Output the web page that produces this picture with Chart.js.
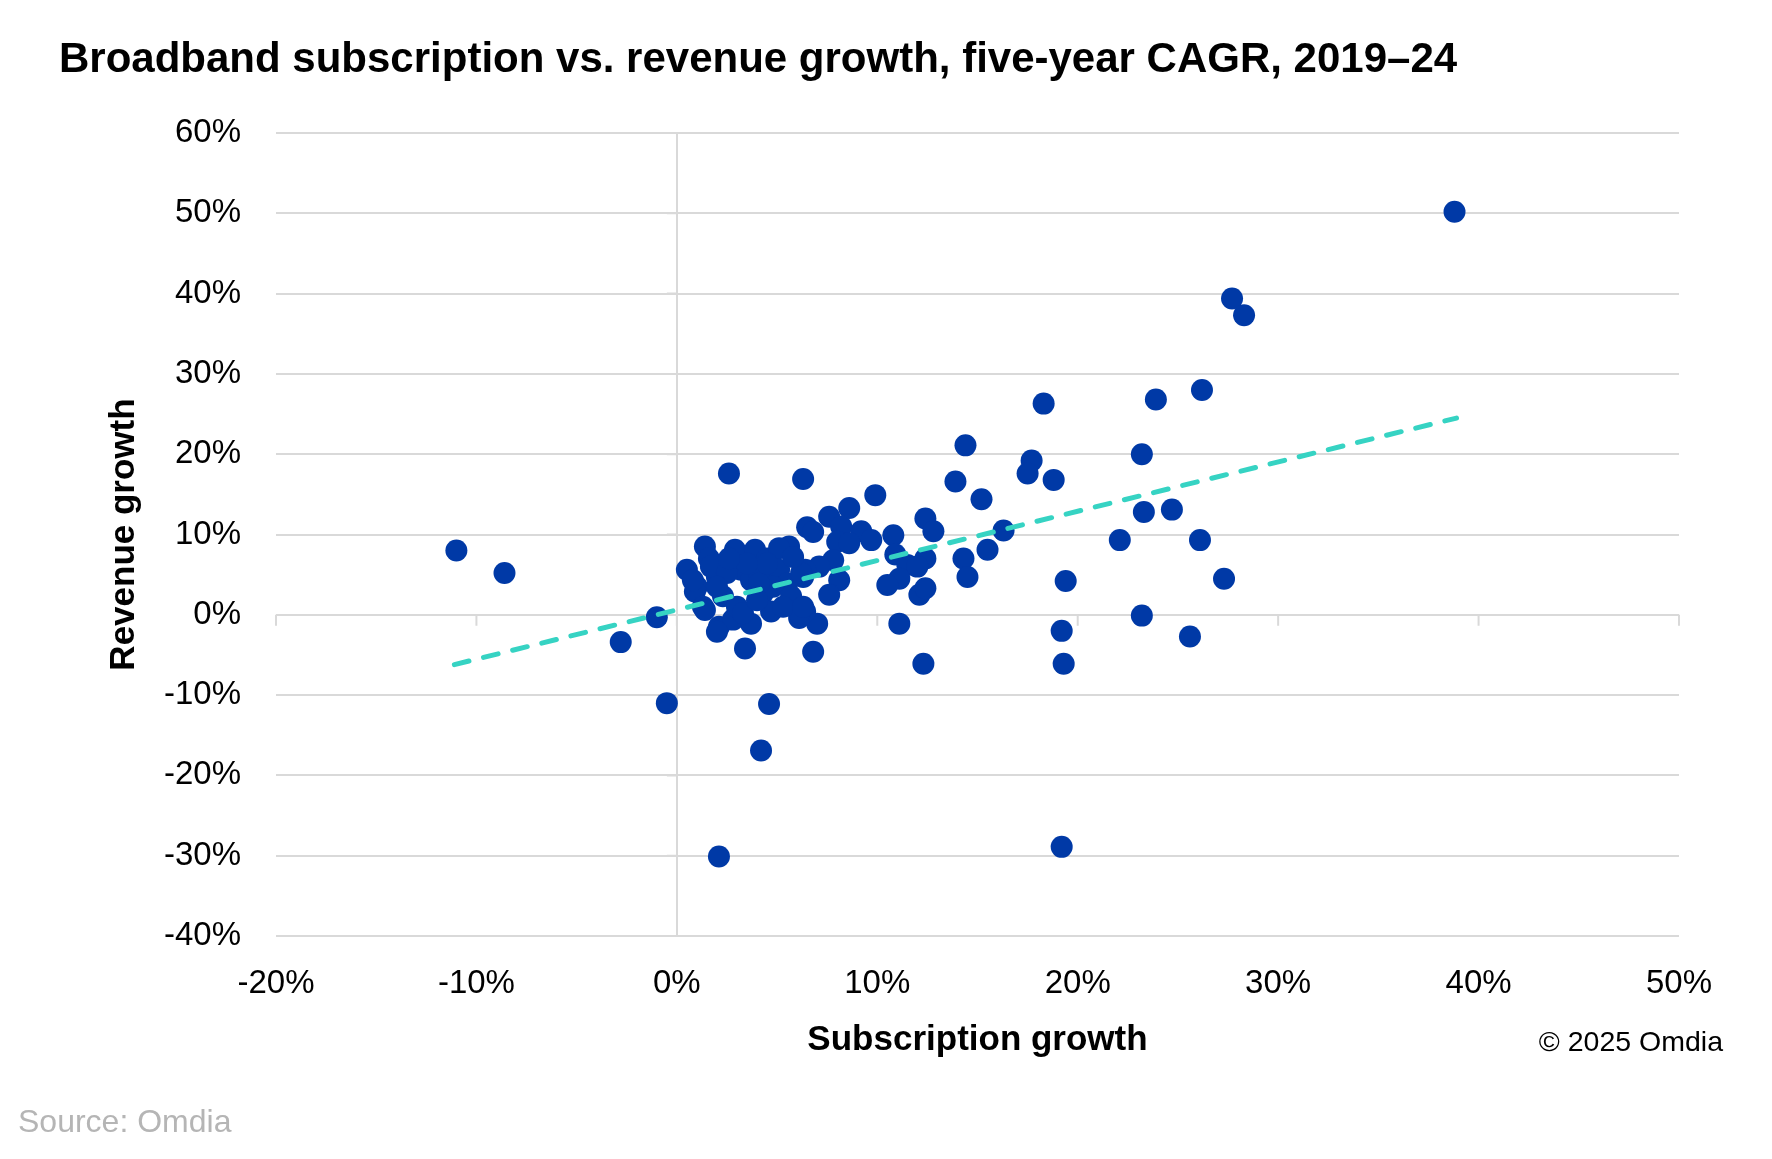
<!DOCTYPE html>
<html>
<head>
<meta charset="utf-8">
<script src="https://cdn.jsdelivr.net/npm/chart.js@4.4.1/dist/chart.umd.min.js"></script>
<style>
  html, body { margin: 0; padding: 0; background: #fff; }
  #wrap { width: 1772px; height: 1159px; position: relative; }
</style>
</head>
<body>
<div id="wrap"><canvas id="chartBroadband"></canvas></div>
<script>
// subscription growth (x, %) and revenue growth (y, %), one entry per operator
const subGrowth = [
  -11.0, -8.6, -2.8, -1.0, -0.5, 2.1, 4.2, 4.6, 2.6, 6.3,
  38.8, 27.7, 28.3, 18.3, 23.9, 26.2, 14.4, 17.7, 17.5, 18.8,
  23.2, 13.9, 15.2, 9.9, 8.6, 23.3, 24.7, 22.1, 26.1, 16.3,
  15.5, 14.3, 14.5, 19.4, 27.3, 23.2, 19.2, 25.6, 19.3, 19.2,
  12.3, 11.1, 6.8, 3.4,
  7.6, 12.4, 12.8, 6.5, 6.8, 8.2, 9.2, 9.7, 8.0, 8.6,
  10.8, 7.8, 7.1, 8.1, 7.6, 6.4, 10.9, 11.5, 12.4, 12.0,
  11.1, 10.5, 12.1, 12.4, 7.0, 6.4, 6.1,
  0.5, 1.4, 1.6, 2.9, 3.9, 4.5, 5.6, 5.1, 1.0, 0.9,
  1.3, 2.0, 3.2, 3.7, 4.6, 5.1, 4.3, 4.7, 6.1, 6.3,
  2.1, 2.8, 3.7, 2.3, 3.0, 2.0, 1.7, 2.5, 4.1, 5.5,
  4.8, 4.1, 5.7, 5.3, 6.3, 6.2, 2.0, 3.3, 1.4, 0.8,
  4.0, 4.5, 3.5, 5.8, 2.6
];
const revGrowth = [
  8.0, 5.2, -3.4, -0.3, -11.0, -30.1, -16.9, -11.1, 17.6, 16.9,
  50.2, 39.4, 37.3, 26.3, 26.8, 28.0, 21.1, 19.2, 17.6, 16.8,
  20.0, 16.6, 14.4, 14.9, 13.3, 12.8, 13.1, 9.3, 9.3, 10.5,
  8.1, 7.0, 4.7, 4.2, 4.5, -0.1, -2.0, -2.7, -6.1, -28.9,
  -6.1, -1.1, -4.6, -4.2,
  12.2, 12.0, 10.4, 10.9, 10.3, 11.0, 10.4, 9.3, 9.1, 8.9,
  9.9, 6.8, 6.0, 4.3, 2.5, 5.6, 7.5, 6.2, 7.0, 6.0,
  4.5, 3.7, 2.5, 3.3, -1.1, 0.4, -0.4,
  5.6, 8.5, 7.0, 8.1, 8.1, 7.0, 8.5, 8.3, 3.5, 2.9,
  1.0, 4.7, 5.6, 4.3, 4.3, 5.6, 2.7, 0.4, 0.2, 4.7,
  -1.5, -0.6, -1.1, 2.3, 1.0, -2.1, 6.0, 5.2, 5.2, 3.9,
  3.5, 3.9, 2.3, 1.0, 1.0, 5.2, 3.5, 0.2, 0.6, 4.3,
  1.8, 6.4, 6.4, 7.2, 7.0
];

// linear trend line end points
const trendX = [-11.1, 38.9];
const trendY = [-6.2, 24.5];

const xMin = -20, xMax = 50, yMin = -40, yMax = 60, step = 10;

const points = subGrowth.map((v, i) => ({ x: v, y: revGrowth[i] }));
const trend = trendX.map((v, i) => ({ x: v, y: trendY[i] }));

const FONT = "'Liberation Sans', Arial, sans-serif";
const GRID = '#d9d9d9';

// axes crossing at zero, with small tick marks, like the original
const zeroAxes = {
  id: 'zeroAxes',
  beforeDatasetsDraw(chart) {
    const { ctx, scales: { x, y } } = chart;
    const x0 = x.getPixelForValue(0);
    const y0 = y.getPixelForValue(0);
    ctx.save();
    ctx.strokeStyle = GRID;
    ctx.lineWidth = 2;
    ctx.beginPath();
    x.ticks.forEach(t => {
      const px = x.getPixelForValue(t.value);
      ctx.moveTo(px, y0);
      ctx.lineTo(px, y0 + 11);
    });
    y.ticks.forEach(t => {
      if (t.value === 0) return;
      const py = y.getPixelForValue(t.value);
      ctx.moveTo(x0 - 10, py);
      ctx.lineTo(x0, py);
    });
    ctx.stroke();
    ctx.restore();
  }
};

const extraText = {
  id: 'extraText',
  afterDraw(chart) {
    const ctx = chart.ctx;
    ctx.save();
    ctx.fillStyle = '#000';
    ctx.textBaseline = 'middle';
    ctx.textAlign = 'left';
    ctx.font = 'bold 42px ' + FONT;
    ctx.fillText('Broadband subscription vs. revenue growth, five-year CAGR, 2019–24', 59, 60);
    ctx.textAlign = 'right';
    ctx.font = '28.5px ' + FONT;
    ctx.fillText('© 2025 Omdia', 1723, 1043);
    ctx.textAlign = 'left';
    ctx.fillStyle = '#b5b5b5';
    ctx.font = '32px ' + FONT;
    ctx.fillText('Source: Omdia', 18, 1123);
    ctx.restore();
  }
};

new Chart(document.getElementById('chartBroadband'), {
  type: 'scatter',
  data: {
    datasets: [
      {
        type: 'line',
        label: 'Trend',
        data: trend,
        borderColor: '#36d3c3',
        borderWidth: 5,
        borderDash: [15, 15],
        borderCapStyle: 'round',
        pointRadius: 0,
        fill: false,
        order: 0
      },
      {
        label: 'Operators',
        data: points,
        backgroundColor: '#0039a6',
        borderColor: '#0039a6',
        borderWidth: 0,
        pointRadius: 11,
        order: 1
      }
    ]
  },
  options: {
    responsive: true,
    maintainAspectRatio: false,
    animation: false,
    layout: { padding: { left: 0, top: 133, right: 93, bottom: 0 } },
    plugins: {
      legend: { display: false },
      tooltip: { enabled: false }
    },
    scales: {
      x: {
        type: 'linear',
        min: xMin,
        max: xMax,
        border: { display: false },
        grid: {
          color: c => (c.tick && c.tick.value === 0 ? GRID : 'transparent'),
          lineWidth: 2,
          drawTicks: false
        },
        ticks: {
          stepSize: step,
          padding: 28,
          color: '#000',
          font: { family: FONT, size: 33 },
          callback: v => v + '%'
        },
        title: {
          display: true,
          text: 'Subscription growth',
          color: '#000',
          font: { family: FONT, size: 35, weight: 'bold' },
          padding: { top: 0, bottom: 98 }
        },
        afterFit: s => { s.height = 223; }
      },
      y: {
        type: 'linear',
        min: yMin,
        max: yMax,
        border: { display: false },
        grid: { color: GRID, lineWidth: 2, drawTicks: false },
        ticks: {
          stepSize: step,
          padding: 35,
          color: '#000',
          font: { family: FONT, size: 33 },
          callback: v => v + '%'
        },
        title: {
          display: true,
          text: 'Revenue growth',
          color: '#000',
          font: { family: FONT, size: 35, weight: 'bold' },
          padding: { top: 103, bottom: 0 }
        },
        afterFit: s => { s.width = 276; }
      }
    }
  },
  plugins: [zeroAxes, extraText]
});
</script>
</body>
</html>
